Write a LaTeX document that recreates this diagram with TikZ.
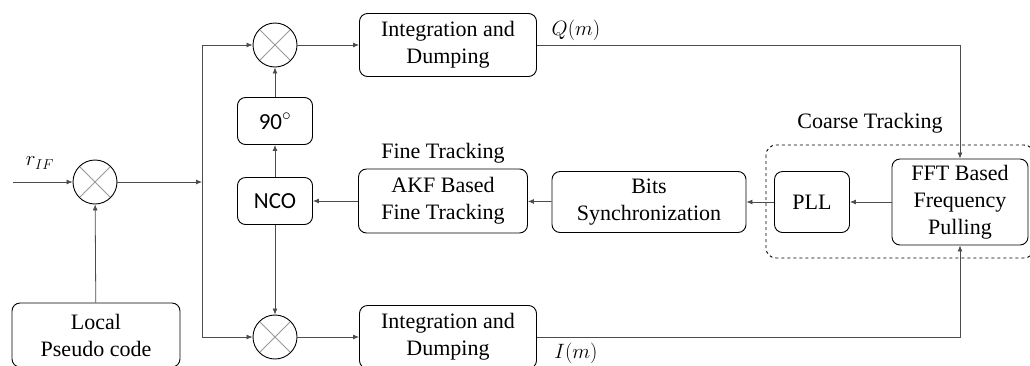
\documentclass[tikz,border=0pt]{standalone}
\usepackage{fontspec}
\setmainfont{Liberation Serif}
\newfontfamily\ncofont{Carlito}
\usetikzlibrary{arrows.meta}

\begin{document}
\begin{tikzpicture}[x=1pt, y=-1pt,
    font=\fontsize{22}{27}\selectfont,
    every node/.style = {align=center},
    block/.style = {shape=rectangle, rounded corners=8pt, draw, line width=0.9pt,
      inner sep=0pt},
    mixer/.style = {shape=circle, draw, line width=0.9pt, minimum size=44pt, inner sep=0pt,
      path picture={\draw[black!40, line width=0.8pt]
        (path picture bounding box.north west) -- (path picture bounding box.south east)
        (path picture bounding box.north east) -- (path picture bounding box.south west);}},
    link/.style = {draw=black!70, line width=0.8pt, -{Latex[length=6pt, width=5pt]}}]
    \useasboundingbox (0,0) rectangle (1030,365);
    % mixers
    \node[mixer] (mixIn) at (95,182) {};
    \node[mixer] (mixQ) at (275,45) {};
    \node[mixer] (mixI) at (275,337) {};
    % blocks
    \node[block, minimum width=168pt, minimum height=64pt] (lpc) at (96,335) {Local\\Pseudo code};
    \node[block, minimum width=177pt, minimum height=63pt] (intQ) at (448,45) {Integration and\\Dumping};
    \node[block, minimum width=177pt, minimum height=63pt] (intI) at (448,337) {Integration and\\Dumping};
    \node[block, minimum width=75pt, minimum height=47pt, font=\fontsize{23}{25}\ncofont] (ph90) at (275,121) {90$^{\circ}$};
    \node[block, minimum width=75pt, minimum height=47pt, font=\fontsize{23}{25}\ncofont] (nco) at (275,201) {NCO};
    \node[block, minimum width=169pt, minimum height=64pt] (akf) at (443,201) {AKF Based\\Fine Tracking};
    \node[block, minimum width=194pt, minimum height=61pt] (bits) at (649,202) {Bits\\Synchronization};
    \node[block, minimum width=75pt, minimum height=61pt] (pll) at (812,202) {PLL};
    \node[block, minimum width=136pt, minimum height=86pt] (fft) at (960,202) {FFT Based\\Frequency\\Pulling};
    \draw[dashed, line width=0.9pt, rounded corners=10pt] (766,145) rectangle (1034,258);
    % labels
    \node (rif) at (40,163) {$r_{IF}$};
    \node (lblQ) at (576,30) {$Q(m)$};
    \node (lblI) at (576,353) {$I(m)$};
    \node (lblFine) at (443,153) {Fine Tracking};
    \node (lblCoarse) at (870,123) {Coarse Tracking};
    % split points
    \coordinate (in) at (13,182);
    \coordinate (split) at (202,182);
    \coordinate (spQ) at (202,45);
    \coordinate (spI) at (202,337);
    % connectors
    \draw[link] (in) -- (mixIn);
    \draw[link] (lpc) -- (mixIn);
    \draw[link] (mixIn) -- (split);
    \draw[draw=black!70, line width=0.8pt] (spQ) -- (spI);
    \draw[link] (spQ) -- (mixQ);
    \draw[link] (spI) -- (mixI);
    \draw[link] (mixQ) -- (intQ);
    \draw[link] (mixI) -- (intI);
    \draw[link] (nco) -- (ph90);
    \draw[link] (ph90) -- (mixQ);
    \draw[link] (nco) -- (mixI);
    \draw[link] (akf) -- (nco);
    \draw[link] (bits) -- (akf);
    \draw[link] (pll) -- (bits);
    \draw[link] (fft) -- (pll);
    \draw[link] (intQ.east) -| (fft.north);
    \draw[link] (intI.east) -| (fft.south);
  \end{tikzpicture}
\end{document}
